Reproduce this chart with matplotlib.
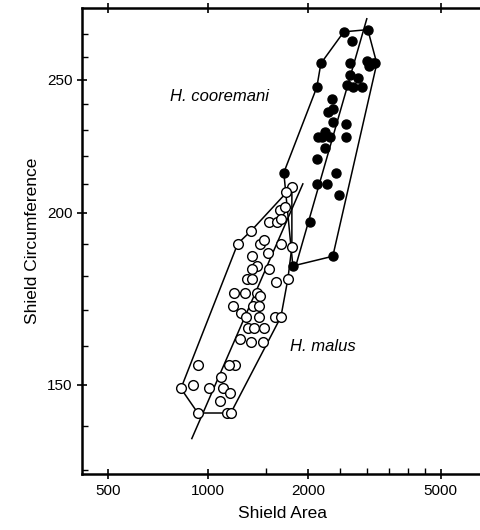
import matplotlib
matplotlib.use("Agg")
import matplotlib.pyplot as plt
import numpy as np

plt.rcParams['font.family'] = ['Liberation Sans', 'DejaVu Sans']

# H. cooremani (filled): shield area, shield circumference
coor_area = [2561, 3023, 2707, 2185, 2669, 3002, 3130, 3044, 3173, 2669, 2821,
             2615, 2725, 2900, 2125, 2357, 2293, 2373, 2373, 2597, 2140, 2246,
             2325, 2200, 2597, 2246, 2125, 2423, 1691, 2125, 2277, 2474, 2025,
             1800, 2373]
coor_circ = [271, 272, 267, 257, 257, 258, 257, 256, 257, 252, 251,
             248, 247, 247, 247, 242, 237, 238, 233, 232, 227, 229,
             227, 227, 227, 223, 219, 214, 214, 210, 210, 206, 197,
             183, 186]

# H. malus (open)
malus_area = [1788, 1715, 1645, 1703, 1525, 1611, 1657, 1346, 1230, 1433, 1473,
              1657, 1788, 1356, 1514, 1403, 1356, 1525, 1309, 1356, 1600, 1739,
              1197, 1291, 1403, 1433, 1189, 1365, 1423, 1256, 1300, 1423, 1589,
              1657, 1318, 1374, 1473, 1248, 1346, 1463, 933, 1205, 1156, 1094,
              902, 1007, 1109, 1164, 830, 1086, 933, 1140, 1172]
malus_circ = [209, 207, 201, 202, 197, 197, 198, 194, 190, 190, 191,
              190, 189, 186, 187, 183, 182, 182, 179, 179, 178, 179,
              175, 175, 175, 174, 171, 171, 171, 169, 168, 168, 168,
              168, 165, 165, 165, 162, 161, 161, 155, 155, 155, 152,
              150, 149, 149, 148, 149, 146, 143, 143, 143]

# convex hulls
coor_hull_x = [2561, 3023, 3217, 2373, 1800, 1691, 2125, 2185, 2561]
coor_hull_y = [271, 272, 257, 186, 183, 214, 247, 257, 271]
malus_hull_x = [830, 933, 1172, 1657, 1739, 1788, 1788, 1346, 1230, 830]
malus_hull_y = [149, 143, 143, 168, 179, 189, 209, 194, 190, 149]

# regression lines
coor_line_x = [1825, 3002]
coor_line_y = [182, 277]
malus_line_x = [895, 1929]
malus_line_y = [137, 210]

fig = plt.figure(figsize=(4.8, 5.3), dpi=100)
ax = fig.add_axes([0.171, 0.1057, 0.835, 0.879])
ax.set_xscale('log')
ax.set_yscale('log')

ax.plot(coor_hull_x, coor_hull_y, color='black', lw=1.1)
ax.plot(malus_hull_x, malus_hull_y, color='black', lw=1.1)
ax.plot(coor_line_x, coor_line_y, color='black', lw=1.1)
ax.plot(malus_line_x, malus_line_y, color='black', lw=1.1)

ax.plot(malus_area, malus_circ, 'o', mfc='white', mec='black', mew=1.0, ms=7, zorder=3)
ax.plot(coor_area, coor_circ, 'o', color='black', ms=6.5, zorder=3)

ax.text(769, 243, 'H. cooremani', style='italic', fontsize=12, va='center', ha='left')
ax.text(1763, 160, 'H. malus', style='italic', fontsize=12, va='center', ha='left')

ax.set_xlim(419, 6700)
ax.set_ylim(129.1, 282)

ax.set_xticks([500, 1000, 2000, 5000])
ax.set_xticklabels(['500', '1000', '2000', '5000'])
ax.set_xticks([1500, 2500, 3000, 3500, 4000, 4500], minor=True)
ax.xaxis.set_minor_formatter(matplotlib.ticker.NullFormatter())
ax.set_yticks([150, 200, 250])
ax.set_yticklabels(['150', '200', '250'])
ax.set_yticks([130, 140, 160, 170, 180, 190, 210, 220, 230, 240, 260, 270], minor=True)
ax.yaxis.set_minor_formatter(matplotlib.ticker.NullFormatter())

ax.tick_params(which='major', direction='inout', length=7, width=1.2, labelsize=11, top=True)
ax.tick_params(which='minor', direction='in', length=4, width=1)

for s in ['left', 'bottom', 'top']:
    ax.spines[s].set_linewidth(1.8)
ax.spines['right'].set_visible(False)

ax.set_xlabel('Shield Area', fontsize=12.5, labelpad=6)
ax.set_ylabel('Shield Circumference', fontsize=12.5, labelpad=5)

fig.savefig('out.png', dpi=100)
